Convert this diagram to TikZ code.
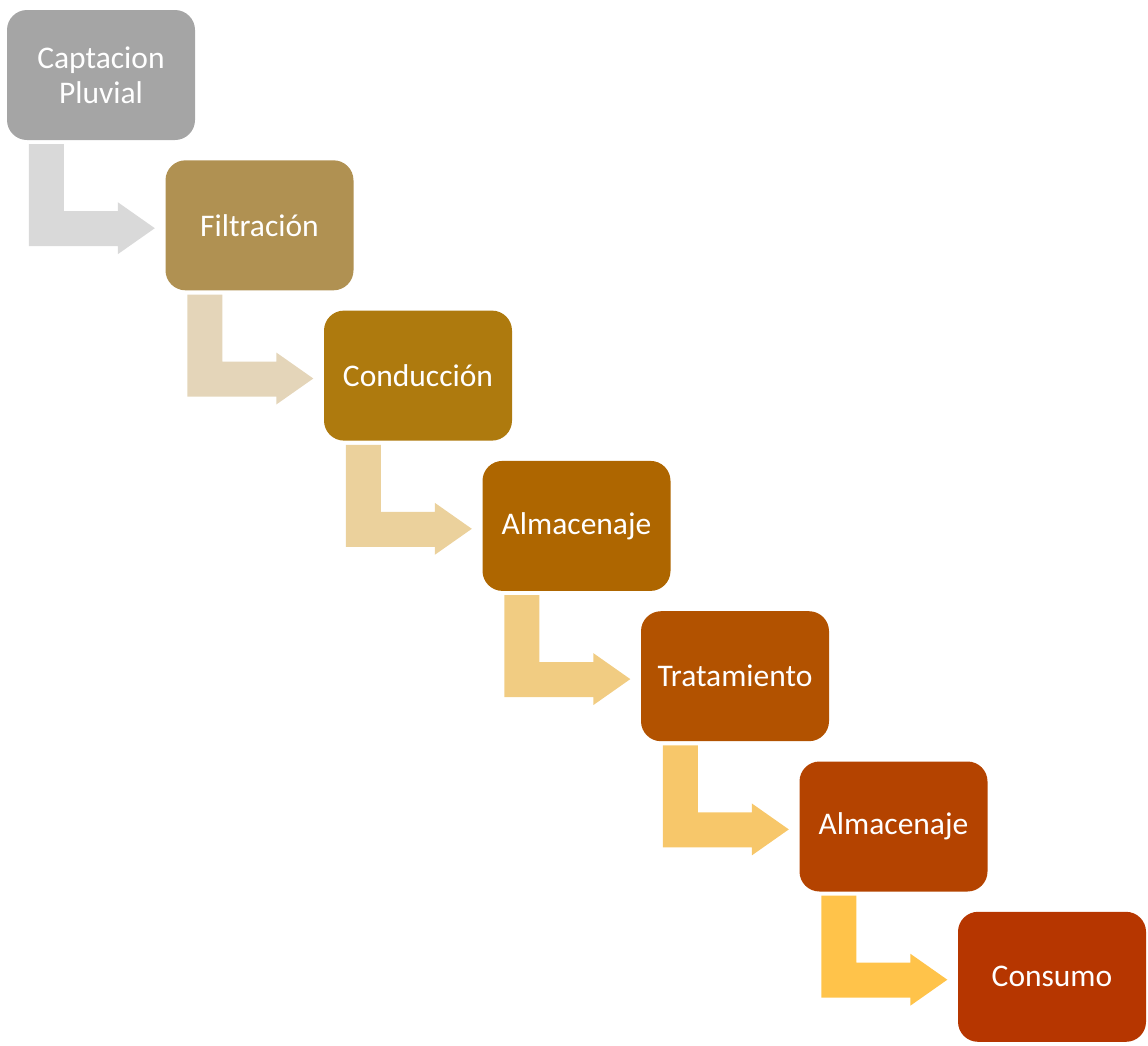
\documentclass[tikz,border=0pt]{standalone}
\usepackage{fontspec}
\setmainfont{Carlito}
\usetikzlibrary{calc}
\definecolor{bx0}{HTML}{A5A5A5}
\definecolor{bx1}{HTML}{B09152}
\definecolor{bx2}{HTML}{AE7A0E}
\definecolor{bx3}{HTML}{AE6600}
\definecolor{bx4}{HTML}{B25200}
\definecolor{bx5}{HTML}{B44300}
\definecolor{bx6}{HTML}{B63600}
\definecolor{ar0}{HTML}{D9D9D9}
\definecolor{ar1}{HTML}{E4D5B9}
\definecolor{ar2}{HTML}{EBD19C}
\definecolor{ar3}{HTML}{F1CC82}
\definecolor{ar4}{HTML}{F7C76A}
\definecolor{ar5}{HTML}{FFC34A}
\tikzset{
  stepbox/.style={rounded corners=20pt, minimum width=188pt, minimum height=130pt,
    inner sep=0pt, text=white, align=center, font=\fontsize{31.5}{35}\selectfont},
}
\begin{document}
\begin{tikzpicture}[x=1pt,y=1pt]
\useasboundingbox (0,0) rectangle (1148,-1045);
\node[stepbox, fill=bx0] (b0) at ({7+94+0*158.5},{-(10+65+0*150.3)}) {Captacion\\Pluvial};
\node[stepbox, fill=bx1] (b1) at ({7+94+1*158.5},{-(10+65+1*150.3)}) {Filtración};
\node[stepbox, fill=bx2] (b2) at ({7+94+2*158.5},{-(10+65+2*150.3)}) {Conducción};
\node[stepbox, fill=bx3] (b3) at ({7+94+3*158.5},{-(10+65+3*150.3)}) {Almacenaje};
\node[stepbox, fill=bx4] (b4) at ({7+94+4*158.5},{-(10+65+4*150.3)}) {Tratamiento};
\node[stepbox, fill=bx5] (b5) at ({7+94+5*158.5},{-(10+65+5*150.3)}) {Almacenaje};
\node[stepbox, fill=bx6] (b6) at ({7+94+6*158.5},{-(10+65+6*150.3)}) {Consumo};
\foreach \i in {0,...,5} {
  \fill[ar\i] ($(b\i.south west)+(22,-4)$) -- ++(35,0) -- ++(0,-67) -- ++(54,0)
    -- ++(0,9) -- ++(37,-26) -- ++(-37,-26) -- ++(0,8) -- ++(-89,0) -- cycle;
}
\end{tikzpicture}
\end{document}
